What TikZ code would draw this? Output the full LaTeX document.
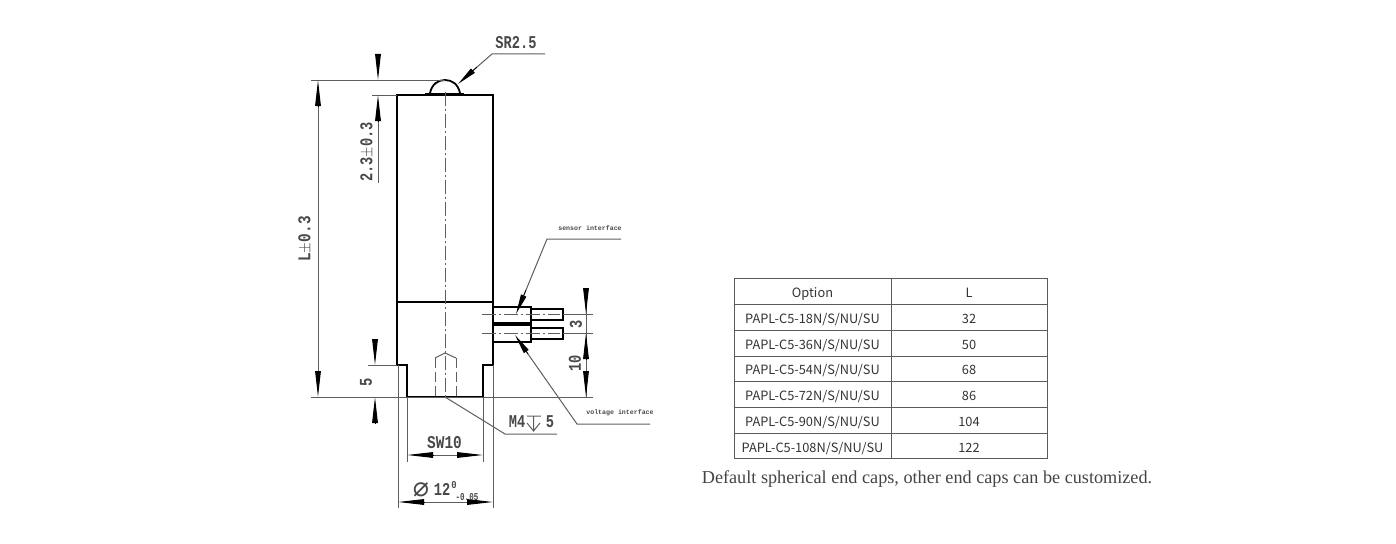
\documentclass[tikz,border=0pt]{standalone}
\usepackage{fontspec}
\usepackage{xcolor}
\usetikzlibrary{arrows.meta}
\newfontfamily\cadfont{Liberation Mono}
\newfontfamily\symfont{DejaVu Sans}
\newfontfamily\cellfont{Noto Sans CJK SC}
\newfontfamily\notefont{Liberation Serif}
\definecolor{dimgray}{HTML}{5E5E5E}
\definecolor{cellgray}{HTML}{5A5A5A}
\definecolor{textgray}{HTML}{333333}
\definecolor{cadgray}{HTML}{484848}
\definecolor{notegray}{HTML}{444444}
\tikzset{
  outline/.style={line width=2.4pt,black,line join=miter},
  portline/.style={line width=2pt,black},
  thinline/.style={line width=1pt,dimgray},
  axisline/.style={line width=1pt,dimgray,dash pattern=on 14pt off 3pt on 2pt off 3pt},
  hiddenline/.style={line width=1pt,dimgray,dash pattern=on 10pt off 4pt},
  dimtip/.style={-{Triangle[length=26pt,width=5.6pt]},line width=1pt,black},
  leadtip/.style={-{Triangle[length=20pt,width=5.6pt]},line width=1pt,black},
  cadlabel/.style={font=\cadfont\bfseries\fontsize{18}{18}\selectfont,text=cadgray,inner sep=0pt},
  smallcad/.style={font=\cadfont\bfseries\fontsize{10.5}{11}\selectfont,text=cadgray,inner sep=0pt},
  tinylabel/.style={font=\cadfont\bfseries\fontsize{6.6}{7}\selectfont,text=cadgray,inner sep=0pt},
  cell/.style={draw=cellgray,line width=1pt,minimum height=25.7pt,inner sep=0pt,outer sep=0pt,
    text=textgray,text height=12pt,text depth=0pt,font=\cellfont\fontsize{12.8}{14}\selectfont},
  optcell/.style={cell,minimum width=157pt},
  lencell/.style={cell,minimum width=156pt},
}
\begin{document}
\begin{tikzpicture}[x=1pt,y=-1pt,node distance=25.7pt]
\useasboundingbox (0,0) rectangle (1396,543);

% part outline
\draw[outline] (397,95) rectangle (493,302);
\draw[outline] (397,302) -- (397,365) -- (407,365) -- (407,397) -- (483,397)
               -- (483,365) -- (493,365) -- (493,302);
\draw[line width=2pt] (425,94) -- (464,94);
\draw[line width=1.8pt] (430,93) .. controls (432,84) and (438,80) .. (445,80)
               .. controls (452,80) and (458,84) .. (460,93);

% connectors on the side
\draw[portline] (493,307) -- (531,307) -- (531,342) -- (493,342);
\draw[portline] (531,309) -- (563,309) -- (563,320) -- (531,320);
\draw[portline] (531,328) -- (563,328) -- (563,339) -- (531,339);
\draw[line width=4pt] (493,324) -- (531,324);

% axes and threaded hole
\draw[axisline] (445,92) -- (445,397);
\draw[axisline] (482,314) -- (560,314);
\draw[axisline] (482,333) -- (560,333);
\draw[hiddenline] (435,358) -- (435,397);
\draw[hiddenline] (456,358) -- (456,397);
\draw[thinline] (435,358) -- (445,353) -- (456,358);

% extension lines
\draw[thinline] (311,80) -- (445,80);
\draw[thinline] (372,95) -- (397,95);
\draw[thinline] (311,397) -- (593,397);
\draw[thinline] (368,365) -- (397,365);
\draw[thinline] (563,314) -- (593,314);
\draw[thinline] (563,333) -- (593,333);
\draw[thinline] (398,365) -- (398,508);
\draw[thinline] (493,365) -- (493,508);
\draw[thinline] (407,397) -- (407,462);
\draw[thinline] (483,397) -- (483,462);

% dimension L
\draw[thinline] (318,106) -- (318,371);
\draw[dimtip] (318,106) -- (318,80);
\draw[dimtip] (318,371) -- (318,397);
\node[cadlabel,rotate=90,xscale=.8] (LENGTH) at (305,239) {L$\pm$0.3};

% dimension 2.3
\draw[dimtip] (378,54) -- (378,80);
\draw[thinline] (378,121) -- (378,183);
\draw[dimtip] (378,121) -- (378,95);
\node[cadlabel,rotate=90,xscale=.76] (CAP) at (367,152) {2.3$\pm$0.3};

% dimension 5
\draw[dimtip] (375,339) -- (375,365);
\draw[dimtip] (375,423) -- (375,397);
\node[cadlabel,rotate=90,xscale=.76] (STEP) at (366,382) {5};

% dimensions 3 and 10
\draw[thinline] (586,289) -- (586,397);
\draw[dimtip] (586,288) -- (586,314);
\draw[dimtip] (586,359) -- (586,333);
\draw[dimtip] (586,371) -- (586,397);
\node[cadlabel,rotate=90,xscale=.76] (PITCH) at (576,324) {3};
\node[cadlabel,rotate=90,xscale=.76] (HEIGHT) at (575,363) {10};

% widths at the bottom
\draw[thinline] (433,455) -- (457,455);
\draw[dimtip] (433,455) -- (407,455);
\draw[dimtip] (457,455) -- (483,455);
\node[cadlabel,xscale=.8] (FLATS) at (444.5,443) {SW10};
\draw[thinline] (423,502) -- (467,502);
\draw[dimtip] (424,502) -- (398,502);
\draw[dimtip] (467,502) -- (493,502);
\node[font=\symfont\fontsize{27}{27}\selectfont,text=cadgray,inner sep=0pt] (DIA) at (421,490) {⌀};
\node[cadlabel,xscale=.76] (DIAVAL) at (442,489) {12};
\node[smallcad,xscale=.85] (UPPER) at (454,485) {0};
\node[smallcad,xscale=.72] (LOWER) at (467,497) {-0.05};

% leaders
\draw[leadtip] (477,67) -- (458,84);
\draw[thinline] (477,67) -- (492,54) -- (545,54);
\node[cadlabel,xscale=.76] (SR) at (516,43) {SR2.5};
\draw[leadtip] (526,290) -- (516,314);
\draw[thinline] (526,290) -- (547,239) -- (621,239);
\node[tinylabel] (SENSOR) at (590,228) {sensor interface};
\draw[leadtip] (528,354) -- (515,335);
\draw[thinline] (528,354) -- (577,424) -- (650,424);
\node[tinylabel] (VOLTAGE) at (620,413) {voltage interface};
\draw[thinline] (445,397) -- (505,434) -- (557,434);
\node[cadlabel,xscale=.76] (THREAD) at (517,422) {M4};
\draw[thinline] (527,416) -- (541,416) (533.5,416) -- (533.5,431) (527,423) -- (533.5,431) -- (540,423);
\node[cadlabel,xscale=.76] (DEPTHVAL) at (550,422) {5};

% table
\node[optcell] (OPT) at (812.5,291.8) {Option};
\node[optcell] (OPT1) [below of=OPT] {PAPL-C5-18N/S/NU/SU};
\node[optcell] (OPT2) [below of=OPT1] {PAPL-C5-36N/S/NU/SU};
\node[optcell] (OPT3) [below of=OPT2] {PAPL-C5-54N/S/NU/SU};
\node[optcell] (OPT4) [below of=OPT3] {PAPL-C5-72N/S/NU/SU};
\node[optcell] (OPT5) [below of=OPT4] {PAPL-C5-90N/S/NU/SU};
\node[optcell] (OPT6) [below of=OPT5] {PAPL-C5-108N/S/NU/SU};
\node[lencell] (LEN) at (969,291.8) {L};
\node[lencell] (LEN1) [below of=LEN] {32};
\node[lencell] (LEN2) [below of=LEN1] {50};
\node[lencell] (LEN3) [below of=LEN2] {68};
\node[lencell] (LEN4) [below of=LEN3] {86};
\node[lencell] (LEN5) [below of=LEN4] {104};
\node[lencell] (LEN6) [below of=LEN5] {122};
\node[font=\notefont\fontsize{18.2}{20}\selectfont,text=notegray,inner sep=0pt] (NOTE) at (927,479)
  {Default spherical end caps, other end caps can be customized.};
\end{tikzpicture}
\end{document}
